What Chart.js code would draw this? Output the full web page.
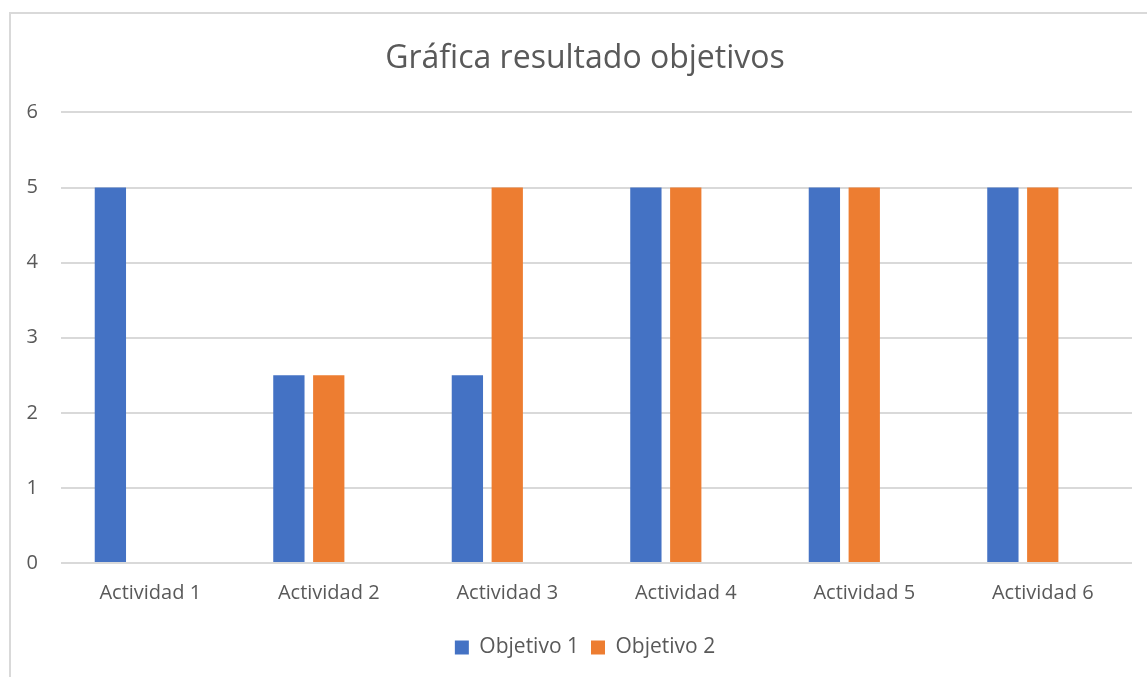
<!DOCTYPE html>
<html lang="es">
<head>
  <meta charset="UTF-8">
  <title>Gráfica resultado objetivos</title>
  <script src="https://cdn.jsdelivr.net/npm/chart.js"></script>
  <style>
    * { box-sizing: border-box; }
    body { margin: 0; background: #fff; overflow: hidden; }
    .frame {
      position: absolute;
      left: 9px;
      top: 12px;
      width: 1200px;
      height: 700px;
      border-left: 2px solid #d9d9d9;
      border-top: 2px solid #d9d9d9;
    }
    /* canvas a bit wider than the window so title and legend sit centred like the original */
    .wrap {
      position: absolute;
      left: 0;
      top: 0;
      width: 1170px;
      height: 677px;
    }
  </style>
</head>
<body>
  <div class="frame"></div>
  <div class="wrap"><canvas id="grafica"></canvas></div>

  <script>
    const actividades = ['Actividad 1', 'Actividad 2', 'Actividad 3', 'Actividad 4', 'Actividad 5', 'Actividad 6'];
    const objetivo1 = [5, 2.5, 2.5, 5, 5, 5];
    const objetivo2 = [0, 2.5, 5, 5, 5, 5];
    const serieVacia = [null, null, null, null, null, null];   // third empty series, takes its slot as in the original
    const ticksY = [0, 1, 2, 3, 4, 5, 6];

    const gris = '#595959';
    const fuente = "'Open Sans', 'DejaVu Sans', sans-serif";

    new Chart(document.getElementById('grafica'), {
      type: 'bar',
      data: {
        labels: actividades,
        datasets: [
          { label: 'Objetivo 1', data: objetivo1, backgroundColor: '#4472c4' },
          { label: 'Objetivo 2', data: objetivo2, backgroundColor: '#ed7d31' },
          { label: '', data: serieVacia, backgroundColor: '#a5a5a5' }
        ]
      },
      options: {
        responsive: true,
        maintainAspectRatio: false,
        animation: false,
        categoryPercentage: 0.67,
        barPercentage: 0.785,
        layout: { padding: { left: 0, right: 0, top: 40, bottom: 9 } },
        plugins: {
          title: {
            display: true,
            text: 'Gráfica resultado objetivos',
            color: gris,
            font: { family: fuente, size: 32, weight: 'normal', lineHeight: 1.2 },
            padding: { top: 0, bottom: 34 }
          },
          legend: {
            position: 'bottom',
            labels: {
              color: gris,
              font: { family: fuente, size: 21 },
              boxWidth: 14,
              boxHeight: 14,
              padding: 12,
              filter: item => item.text !== ''
            }
          },
          tooltip: { enabled: false }
        },
        scales: {
          x: {
            grid: { display: false },
            border: { display: false },
            ticks: { color: gris, font: { family: fuente, size: 20 }, padding: 10 },
            afterFit: axis => { axis.height = 62; }
          },
          y: {
            min: 0,
            max: 6,
            afterBuildTicks: axis => { axis.ticks = ticksY.map(v => ({ value: v })); },
            afterFit: axis => { axis.width = 61; },
            grid: { color: '#d9d9d9', lineWidth: 2, drawTicks: false },
            border: { display: false },
            ticks: { color: gris, font: { family: fuente, size: 20 }, padding: 23 }
          },
          // empty right axis, only reserves space
          derecha: {
            position: 'right',
            min: 0,
            max: 6,
            grid: { display: false },
            border: { display: false },
            ticks: { display: false },
            afterFit: axis => { axis.width = 38; }
          }
        }
      }
    });
  </script>
</body>
</html>
